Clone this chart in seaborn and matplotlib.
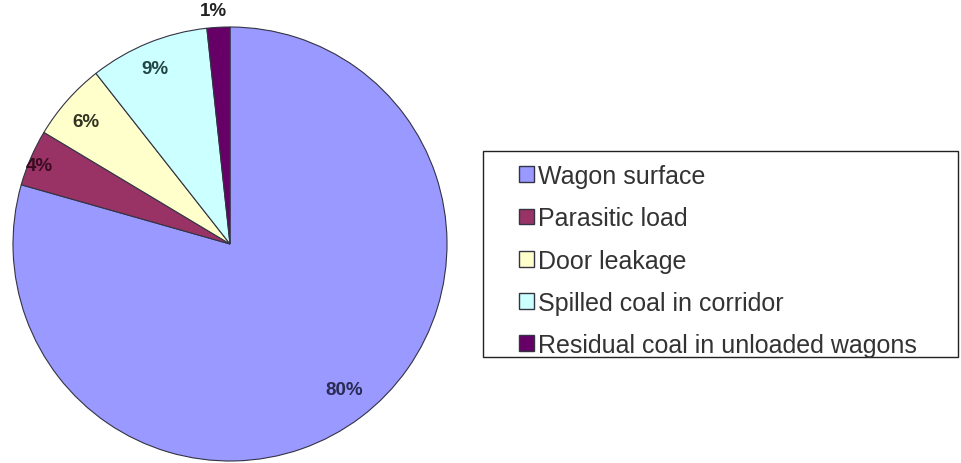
import matplotlib
matplotlib.use("Agg")
import matplotlib.pyplot as plt
from matplotlib.patches import Rectangle
import seaborn as sns
import numpy as np

categories = ["Wagon surface", "Parasitic load", "Door leakage",
              "Spilled coal in corridor", "Residual coal in unloaded wagons"]
shares = [79.4, 4.2, 5.8, 8.9, 1.7]
pct_labels = ["80%", "4%", "6%", "9%", "1%"]
colors = ["#9999FF", "#993366", "#FFFFCC", "#CCFFFF", "#660066"]
label_dist = [0.85, 0.95, 0.87, 0.88, 1.08]
label_colors = ["#2a2a55", "#3a0a20", "#333322", "#224444", "#222222"]

sns.set_theme(style="white")
plt.rcParams["font.family"] = ["Liberation Sans", "DejaVu Sans"]

W, H = 961, 464
fig = plt.figure(figsize=(W / 100, H / 100), dpi=100)
ax = fig.add_axes([13 / W, 2 / H, 434 / W, 434 / H])

wedges, _ = ax.pie(shares, colors=colors, startangle=90, counterclock=False,
                   wedgeprops=dict(edgecolor="#333344", linewidth=0.8))
ax.set_xlim(-1, 1)
ax.set_ylim(-1, 1)
ax.set_aspect("equal")

# percentage labels at the middle angle of each wedge
for w, lab, d, c in zip(wedges, pct_labels, label_dist, label_colors):
    mid = np.deg2rad((w.theta1 + w.theta2) / 2 + 1)
    ax.text(d * np.cos(mid), d * np.sin(mid), lab, ha="center", va="center",
            fontsize=13.5, fontweight="bold", color=c)

# legend box drawn by hand so the padding matches
fig.patches.append(Rectangle((483 / W, 1 - 358 / H), 475 / W, 206 / H,
                             transform=fig.transFigure, facecolor="white",
                             edgecolor="#222222", linewidth=1.0))

leg = fig.legend(wedges, categories, loc="upper left",
                 bbox_to_anchor=(519 / W, 1 - 165 / H), borderaxespad=0,
                 borderpad=0, fontsize=18, frameon=False,
                 handlelength=0.6, handleheight=0.6, handletextpad=0.17,
                 labelspacing=0.73, labelcolor="#333333")
for h in leg.legend_handles:
    h.set_edgecolor("#333344")
    h.set_linewidth(1.0)

fig.savefig("out.png", dpi=100)
